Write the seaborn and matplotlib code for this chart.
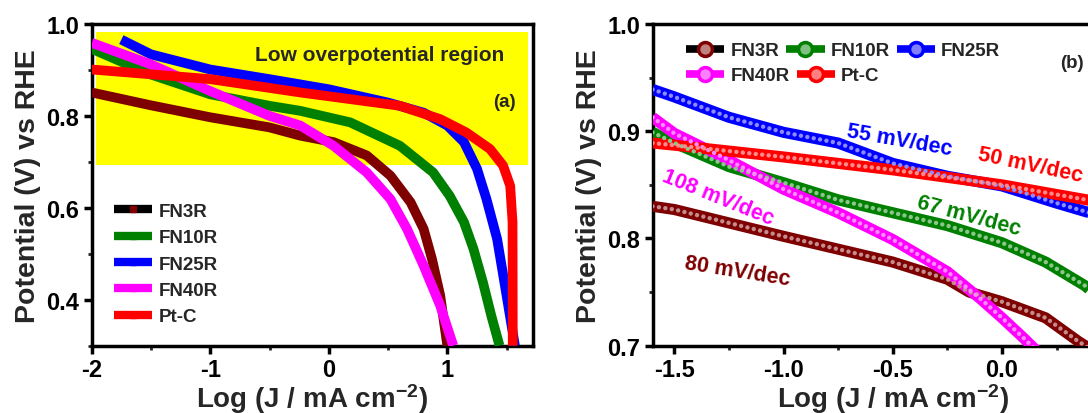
import numpy as np
import pandas as pd
import matplotlib
matplotlib.use("Agg")
import matplotlib.pyplot as plt
import seaborn as sns
from matplotlib.lines import Line2D
from matplotlib.ticker import AutoMinorLocator, FormatStrFormatter
from matplotlib.colors import to_rgb

# ---------------- data: panel (a) ----------------
fn3r_a_x = [-2.0, -1.5, -1.0, -0.5, -0.24, 0.04, 0.32, 0.52, 0.69, 0.80, 0.87, 0.94, 1.0]
fn3r_a_y = [0.851, 0.823, 0.797, 0.775, 0.757, 0.743, 0.714, 0.670, 0.612, 0.554, 0.489, 0.409, 0.30]
fn10r_a_x = [-2.0, -1.5, -1.0, -0.5, -0.24, 0.18, 0.6, 0.88, 1.02, 1.14, 1.22, 1.30, 1.37, 1.44]
fn10r_a_y = [0.946, 0.890, 0.847, 0.822, 0.811, 0.786, 0.735, 0.677, 0.626, 0.569, 0.511, 0.438, 0.366, 0.30]
fn25r_a_x = [-1.75, -1.5, -1.0, -0.5, 0.0, 0.5, 0.8, 1.0, 1.14, 1.25, 1.33, 1.42, 1.49, 1.57]
fn25r_a_y = [0.966, 0.934, 0.901, 0.880, 0.858, 0.829, 0.807, 0.779, 0.743, 0.685, 0.619, 0.532, 0.424, 0.30]
fn40r_a_x = [-2.0, -1.5, -1.0, -0.5, -0.24, 0.04, 0.32, 0.52, 0.66, 0.80, 0.94, 1.05]
fn40r_a_y = [0.959, 0.912, 0.854, 0.800, 0.779, 0.735, 0.677, 0.619, 0.554, 0.474, 0.387, 0.30]
ptc_a_x = [-2.0, -1.0, -0.24, 0.6, 0.94, 1.16, 1.36, 1.47, 1.53, 1.55, 1.552]
ptc_a_y = [0.901, 0.880, 0.851, 0.822, 0.793, 0.764, 0.728, 0.692, 0.648, 0.569, 0.30]

# ---------------- data: panel (b) ----------------
fn3r_b_x = [-1.6, -1.5, -1.0, -0.5, -0.25, -0.15, 0.0, 0.2, 0.35, 0.42]
fn3r_b_y = [0.830, 0.827, 0.802, 0.778, 0.762, 0.750, 0.741, 0.726, 0.704, 0.695]
fn10r_b_x = [-1.6, -1.5, -1.25, -1.0, -0.75, -0.5, -0.25, 0.0, 0.2, 0.38, 0.5]
fn10r_b_y = [0.899, 0.889, 0.867, 0.852, 0.836, 0.824, 0.812, 0.796, 0.778, 0.756, 0.735]
fn25r_b_x = [-1.6, -1.5, -1.25, -1.0, -0.75, -0.5, -0.25, 0.0, 0.25, 0.5]
fn25r_b_y = [0.939, 0.932, 0.913, 0.899, 0.889, 0.870, 0.858, 0.849, 0.833, 0.818]
fn40r_b_x = [-1.6, -1.5, -1.25, -1.0, -0.75, -0.5, -0.25, -0.1, 0.0, 0.1, 0.16]
fn40r_b_y = [0.913, 0.898, 0.873, 0.846, 0.824, 0.799, 0.769, 0.744, 0.726, 0.707, 0.695]
ptc_b_x = [-1.6, -1.5, -1.0, -0.5, 0.0, 0.5]
ptc_b_y = [0.889, 0.887, 0.876, 0.864, 0.850, 0.832]

names = ["FN3R", "FN10R", "FN25R", "FN40R", "Pt-C"]
colors = ["#7F0000", "#008000", "#0000FF", "#FF00FF", "#FF0000"]

slopes = ["80 mV/dec", "67 mV/dec", "55 mV/dec", "108 mV/dec", "50 mV/dec"]
slope_x = [-1.21, -0.15, -0.47, -1.30, 0.13]
slope_y = [0.770, 0.821, 0.892, 0.839, 0.869]
slope_rot = [-9, -15, -10, -22, -12]

xticks_a = [-2, -1, 0, 1]
yticks_a = [0.4, 0.6, 0.8, 1.0]
xticks_b = [-1.5, -1.0, -0.5, 0.0]
yticks_b = [0.7, 0.8, 0.9, 1.0]

sns.set_theme(style="ticks")
plt.rcParams['font.family'] = ['Liberation Sans', 'DejaVu Sans']
plt.rcParams['font.weight'] = 'bold'
plt.rcParams['axes.labelweight'] = 'bold'
plt.rcParams['axes.unicode_minus'] = False
plt.rcParams['mathtext.fontset'] = 'custom'
plt.rcParams['mathtext.rm'] = 'Liberation Sans:bold'
plt.rcParams['mathtext.it'] = 'Liberation Sans:bold'
plt.rcParams['mathtext.bf'] = 'Liberation Sans:bold'
plt.rcParams['mathtext.default'] = 'rm'

W, H = 1088, 414
fig = plt.figure(figsize=(W / 100, H / 100), dpi=100)
ax1 = fig.add_axes([91.7 / W, 1 - 346.7 / H, 441.0 / W, 321.7 / H])
ax2 = fig.add_axes([652.5 / W, 1 - 346.7 / H, 2.2 * 218.4 / W, 321.7 / H])

data_a = [(fn3r_a_x, fn3r_a_y), (fn10r_a_x, fn10r_a_y), (fn25r_a_x, fn25r_a_y),
          (fn40r_a_x, fn40r_a_y), (ptc_a_x, ptc_a_y)]
data_b = [(fn3r_b_x, fn3r_b_y), (fn10r_b_x, fn10r_b_y), (fn25r_b_x, fn25r_b_y),
          (fn40r_b_x, fn40r_b_y), (ptc_b_x, ptc_b_y)]

# ----- panel (a)
ax1.axhspan(0.694, 0.982, xmin=0.01, xmax=0.99, color="#FFFF00", zorder=0, lw=0)
for (x, y), c in zip(data_a, colors):
    df = pd.DataFrame({"x": x, "y": y})
    sns.lineplot(data=df, x="x", y="y", ax=ax1, color=c, lw=7, sort=False,
                 estimator=None, solid_capstyle="butt", solid_joinstyle="round", zorder=3)
ax1.set_xlim(-2, 1.72)
ax1.set_ylim(0.3, 1.0)
ax1.set_xticks(xticks_a)
ax1.set_yticks(yticks_a)
ax1.xaxis.set_major_formatter(FormatStrFormatter("%d"))
ax1.yaxis.set_major_formatter(FormatStrFormatter("%.1f"))
ax1.text(0.425, 0.934, "Low overpotential region", fontsize=15, fontweight="bold",
         ha="center", va="center")
ax1.text(1.48, 0.831, "(a)", fontsize=13.5, fontweight="bold", ha="center", va="center")

hand_a = []
for n, c in zip(names, colors):
    lc = "black" if n == "FN3R" else c
    hand_a.append(Line2D([], [], color=lc, lw=6, marker="s", markersize=5,
                         markerfacecolor=c, markeredgecolor=c, solid_capstyle="butt"))
ax1.legend(hand_a, names, loc="center left", bbox_to_anchor=(114 / W, 1 - 265 / H),
           bbox_transform=fig.transFigure, frameon=False, borderpad=0, borderaxespad=0,
           handlelength=2.05, handletextpad=0.35, labelspacing=0.49,
           prop={"weight": "bold", "size": 13.5})

# ----- panel (b)
for (x, y), c in zip(data_b, colors):
    df = pd.DataFrame({"x": x, "y": y})
    sns.lineplot(data=df, x="x", y="y", ax=ax2, color=c, lw=8, sort=False,
                 estimator=None, solid_capstyle="butt", solid_joinstyle="round", zorder=3)
    light = tuple(0.45 * np.array(to_rgb(c)) + 0.55)
    ax2.plot(x, y, color=light, lw=3.2, linestyle=(0, (0.01, 1.45)),
             dash_capstyle="round", zorder=4)
ax2.set_xlim(-1.6, 0.6)
ax2.set_ylim(0.7, 1.0)
ax2.set_xticks(xticks_b)
ax2.set_yticks(yticks_b)
ax2.xaxis.set_major_formatter(FormatStrFormatter("%.1f"))
ax2.yaxis.set_major_formatter(FormatStrFormatter("%.1f"))
for s, sx, sy, r, c in zip(slopes, slope_x, slope_y, slope_rot, colors):
    ax2.text(sx, sy, s, color=c, fontsize=15.5, fontweight="bold", rotation=r,
             ha="center", va="center", rotation_mode="anchor", zorder=6)
ax2.text(0.32, 0.964, "(b)", fontsize=13.5, fontweight="bold", ha="center", va="center")

hand_b = []
for n, c in zip(names, colors):
    lc = "black" if n == "FN3R" else c
    light = tuple(0.5 * np.array(to_rgb(c)) + 0.5)
    hand_b.append(Line2D([], [], color=lc, lw=5.5, marker="o", markersize=10,
                         markerfacecolor=light, markeredgecolor=c, markeredgewidth=2.5,
                         solid_capstyle="butt"))
leg_kw = dict(loc="center left", bbox_transform=fig.transFigure, frameon=False,
              borderpad=0, borderaxespad=0, handlelength=2.05, handletextpad=0.32,
              columnspacing=0.37, prop={"weight": "bold", "size": 13.5})
leg1 = ax2.legend(hand_b[:3], names[:3], ncol=3, bbox_to_anchor=(686 / W, 1 - 51.7 / H), **leg_kw)
ax2.add_artist(leg1)
ax2.legend(hand_b[3:], names[3:], ncol=2, bbox_to_anchor=(686 / W, 1 - 76.7 / H), **leg_kw)

for ax in (ax1, ax2):
    ax.set_xlabel(r"Log (J / mA cm$^{-2}$)", fontsize=20, fontweight="bold", labelpad=0)
    ax.set_ylabel("Potential (V) vs RHE", fontsize=20.5, fontweight="bold", labelpad=4)
    ax.xaxis.set_minor_locator(AutoMinorLocator(2))
    ax.yaxis.set_minor_locator(AutoMinorLocator(2))
    ax.tick_params(axis="both", which="major", direction="out", length=6, width=2.5,
                   labelsize=17, pad=3, colors="black")
    ax.tick_params(axis="both", which="minor", direction="out", length=3, width=2)
    for lab in ax.get_xticklabels() + ax.get_yticklabels():
        lab.set_fontweight("bold")
    for sp in ax.spines.values():
        sp.set_visible(True)
        sp.set_linewidth(2.5)
        sp.set_color("black")

fig.savefig("out.png", dpi=100)
